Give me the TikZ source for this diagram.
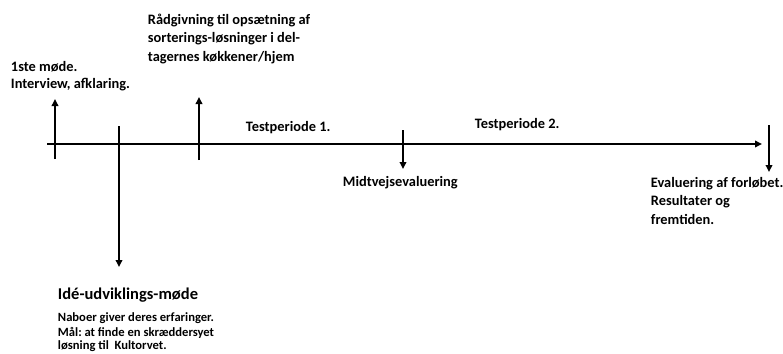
\documentclass[tikz,border=0pt]{standalone}
\usepackage{fontspec}
\setmainfont{Carlito}
\usetikzlibrary{arrows.meta}
\frenchspacing
\begin{document}
\begin{tikzpicture}[x=1pt,y=-1pt,line width=1.9pt,
  lbl/.style={anchor=base west,inner sep=0pt,font=\bfseries\fontsize{14.4}{17}\selectfont},
  small/.style={lbl,font=\bfseries\fontsize{12.6}{15}\selectfont},
  head/.style={lbl,font=\bfseries\fontsize{16.5}{20}\selectfont},
  tip/.style={-{Triangle[length=7pt,width=6.5pt]}}]
\useasboundingbox (0,0) rectangle (783,353);
% main axis
\coordinate (L0) at (47,144);
\coordinate (L1) at (762,144);
\draw[tip] (L0) -- (L1);
% ticks
\coordinate (t1a) at (55,159); \coordinate (t1b) at (55,99);
\coordinate (t2a) at (119,126); \coordinate (t2b) at (119,267);
\coordinate (t3a) at (199,160); \coordinate (t3b) at (199,97);
\coordinate (t4a) at (403,130); \coordinate (t4b) at (403,169);
\coordinate (t5a) at (769,125); \coordinate (t5b) at (769,172);
\draw[tip] (t1a) -- (t1b);
\draw[tip] (t2a) -- (t2b);
\draw[tip] (t3a) -- (t3b);
\draw[tip] (t4a) -- (t4b);
\draw[tip] (t5a) -- (t5b);
% labels
\node[lbl] (m1a) at (10,71) {1ste møde.};
\node[lbl] (m1b) at (10,88) {Interview, afklaring.};
\node[lbl] (r1) at (147,25) {Rådgivning til opsætning af};
\node[lbl] (r2) at (147,43) {sorterings-løsninger i del-};
\node[lbl] (r3) at (147,61) {tagernes køkkener/hjem};
\node[lbl] (tp1) at (245,131) {Testperiode 1.};
\node[lbl] (tp2) at (474,128) {Testperiode 2.};
\node[lbl] (mid) at (342,186) {Midtvejsevaluering};
\node[lbl] (e1) at (650,187) {Evaluering af forløbet.};
\node[lbl] (e2) at (650,205) {Resultater og};
\node[lbl] (e3) at (650,224) {fremtiden.};
\node[head] (idh) at (57,299) {Idé-udviklings-møde};
\node[small] (id1) at (57,321) {Naboer giver deres erfaringer.};
\node[small] (id2) at (57,336) {Mål: at finde en skræddersyet};
\node[small] (id3) at (57,349.5) {løsning til\ \ Kultorvet.};
\end{tikzpicture}
\end{document}
